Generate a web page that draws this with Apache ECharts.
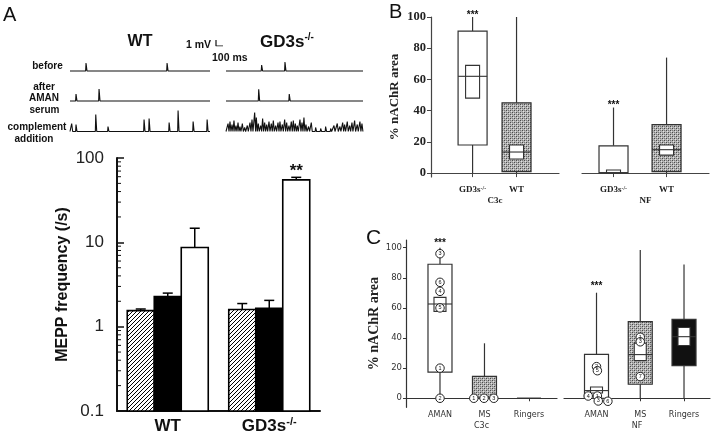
<!DOCTYPE html>
<html><head><meta charset="utf-8">
<script src="https://cdn.jsdelivr.net/npm/echarts@6/dist/echarts.min.js"></script>
<style>html,body{margin:0;padding:0;background:#fff}#c{width:720px;height:438px}</style>
</head><body><div id="c"></div><script>
// ================= DATA =================
// Panel A traces: spikes as [time ms, amplitude mV]
const traceDurationWT = 2000;
const traceDurationKO = 1960;
const wtBefore = [[229,1.33],[1387,1.33]];
const wtAfter = [[86,1.17],[415,2.0]];
const wtComplement = [[24,1.33],[86,1.17],[368,2.83],[543,0.83],[1058,2.0],[1130,2.17],[1416,1.5],[1544,3.5],[1759,1.67],[1959,2.0]];
const koBefore = [[510,1.0],[844,1.5]];
const koAfter = [[468,1.95],[905,1.17]];
const koComplement = [[29,1.33],[57,1.67],[86,1.17],[114,1.83],[143,1.0],[172,1.5],[200,0.83],[234,1.33],[267,0.67],[305,1.0],[343,1.5],[372,2.0],[410,3.17],[434,2.33],[462,1.33],[496,1.0],[524,2.17],[553,1.5],[582,1.17],[615,1.67],[648,1.33],[677,1.83],[710,1.0],[744,1.5],[772,1.67],[806,1.17],[839,2.0],[868,1.5],[901,1.0],[934,1.67],[963,1.83],[992,1.33],[1020,1.0],[1058,2.0],[1087,1.5],[1115,2.33],[1144,1.17],[1182,0.83],[1220,1.5],[1282,0.67],[1354,0.5],[1425,0.83],[1497,0.5],[1545,1.0],[1592,1.33],[1630,0.83],[1669,1.5],[1697,1.17],[1735,1.67],[1769,1.0],[1802,1.5],[1840,1.83],[1878,1.17],[1916,1.67],[1945,1.33]];
const scaleBar = [[0,1],[0,0],[100,0]]; // 1 mV, 100 ms

// Panel A bar chart (MEPP frequency, /s)
const barCategories = ['WT', 'GD3s-/-'];
const mBefore = [1.55, 1.6];
const mBeforeErr = [1.62, 1.88];
const mAfter = [2.28, 1.65];
const mAfterErr = [2.5, 2.05];
const mComplement = [8.7, 55];
const mComplementErr = [14.7, 59];
const mComplementSig = ['', '**'];
const logMinorTicks = [0.2,0.3,0.4,0.5,0.6,0.7,0.8,0.9,2,3,4,5,6,7,8,9,20,30,40,50,60,70,80,90];

// Panel B: [min, q1, median, q3, max, innerLow, innerHigh]
const bCategories = ['GD3s-/-', 'WT'];
const bC3c = [[0,18,62,91,100,48,69],[0,1,13.5,45,100,9,18]];
const bNF = [[0,0,0.3,17.5,42,0,2],[0,1,15,31,74,11.5,18]];
const bFill = ['open','hatched'];
const bSig = ['***',''];
const pctTicks = [0,20,40,60,80,100];

// Panel C
const cCategories = ['AMAN','MS','Ringers'];
const cC3c = [[0,17.3,62.6,89,100,57.7,67],[0,0,0,14.5,36.5,null,null],[0,0,0,0,0,null,null]];
const cNF = [[0,0,5.1,29.2,70.1,3.5,7.5],[0,9.3,29,50.9,98.5,25,36.5],[0,21.7,40.9,52.4,88.9,35,47]];
const cFillC3c = ['open','hatched','open'];
const cFillNF = ['open','hatched','black'];
const cSig = ['***','',''];
// individual muscles: [x position (category units), value, muscle id]
const cDotsC3c = [[1,96,'3'],[1,77,'6'],[1,71,'4'],[1,60,'5'],[1,20,'1'],[1,0,'2'],[1.76,0,'1'],[1.99,0,'2'],[2.21,0,'3']];
const cDotsNF = [[1.0,21,'2'],[1.02,18.3,'5'],[0.81,1.5,'4'],[1.02,1.5,'1'],[1.04,-1.8,'3'],[1.26,-2,'6'],[2,40.5,'1'],[2,37.5,'3'],[2,14.4,'7']];

// ================= RENDER =================
function hatchCanvas(){
  const c=document.createElement('canvas'); c.width=4; c.height=4;
  const g=c.getContext('2d'); g.fillStyle='#fff'; g.fillRect(0,0,4,4);
  g.strokeStyle='#000'; g.lineWidth=1;
  g.beginPath(); g.moveTo(-1,5); g.lineTo(5,-1); g.moveTo(-1,1); g.lineTo(1,-1); g.moveTo(3,5); g.lineTo(5,3); g.stroke();
  return c;
}
function stippleCanvas(){
  const c=document.createElement('canvas'); c.width=4; c.height=4;
  const g=c.getContext('2d'); g.fillStyle='#b4b4b4'; g.fillRect(0,0,4,4);
  g.fillStyle='#4a4a4a'; g.fillRect(0,0,1,1); g.fillRect(2,2,1,1);
  g.fillStyle='#7a7a7a'; g.fillRect(2,0,1,1); g.fillRect(0,2,1,1);
  g.fillStyle='#e0e0e0'; g.fillRect(1,1,1,1); g.fillRect(3,3,1,1);
  return c;
}
const hatch = {image: hatchCanvas(), repeat:'repeat'};
const stipple = {image: stippleCanvas(), repeat:'repeat'};
const fillOf = t => t==='hatched' ? stipple : (t==='black' ? '#111' : '#fff');

function traceData(spikes, dur){
  const pts=[[0,0]];
  spikes.forEach(([t,a])=>{pts.push([t-6,0],[t,a],[t+14,0]);});
  pts.push([dur,0]);
  return pts;
}

const SANS='"Liberation Sans", Arial, sans-serif';
const SERIF='"Liberation Serif", "Times New Roman", serif';
const DEJ='"DejaVu Sans", sans-serif';

const grids=[], xAxes=[], yAxes=[], series=[];
function addGrid(g,x,y){grids.push(g); x.gridIndex=grids.length-1; y.gridIndex=grids.length-1; xAxes.push(x); yAxes.push(y); return grids.length-1;}

// ---- Traces ----
const hiddenAxis = (min,max)=>({type:'value',min,max,show:false});
const traceRows=[71,101,131.5];
const traces=[[wtBefore,wtAfter,wtComplement],[koBefore,koAfter,koComplement]];
const traceLeft=[70,226], traceW=[140,137], traceDur=[traceDurationWT,traceDurationKO];
for(let col=0;col<2;col++){
  for(let r=0;r<3;r++){
    const gi=addGrid({left:traceLeft[col],top:traceRows[r]-3.6*6,width:traceW[col],height:4.1*6},hiddenAxis(0,traceDur[col]),hiddenAxis(-0.5,3.6));
    series.push({type:'line',xAxisIndex:gi,yAxisIndex:gi,data:traceData(traces[col][r],traceDur[col]),showSymbol:false,silent:true,
      lineStyle:{color:'#111',width:1.1}});
  }
}
{
  const gi=addGrid({left:216,top:40,width:7,height:6},hiddenAxis(0,100),hiddenAxis(0,1));
  series.push({type:'line',xAxisIndex:gi,yAxisIndex:gi,data:scaleBar,showSymbol:false,lineStyle:{color:'#111',width:1.2}});
}

// ---- Bar chart (A) ----
const BARW=27;
const supRich={sup:{fontSize:11,fontWeight:'bold',fontFamily:SANS,color:'#111',verticalAlign:'top',lineHeight:11}};
const aGi=addGrid({left:117,top:158,width:203,height:253},
  {type:'category',data:barCategories,axisLine:{lineStyle:{color:'#111',width:2}},axisTick:{show:false},
   axisLabel:{interval:0,fontFamily:SANS,fontWeight:'bold',fontSize:17,color:'#111',margin:5,lineHeight:20,
     formatter:v=>v.replace('-/-','{sup|-/-}'),rich:supRich}},
  {type:'log',logBase:10,min:0.1,max:100,axisLine:{show:true,lineStyle:{color:'#111',width:2}},
   axisTick:{show:true,inside:true,length:7,lineStyle:{color:'#111',width:1.5}},splitLine:{show:false},minorTick:{show:false},
   axisLabel:{fontFamily:SANS,fontSize:17,color:'#222',margin:13,formatter:v=>String(v)},
   name:'MEPP frequency (/s)',nameLocation:'middle',nameGap:46,nameTextStyle:{fontFamily:SANS,fontWeight:'bold',fontSize:16,color:'#111'}});
const barFills=[hatch,'#000','#fff'];
const barData=[];
[[mBefore,mBeforeErr,['','']],[mAfter,mAfterErr,['','']],[mComplement,mComplementErr,mComplementSig]].forEach(([m,e,sg],s)=>{
  m.forEach((v,c)=>barData.push([c,v,e[c],s,sg[c]]));
});
series.push({type:'custom',xAxisIndex:aGi,yAxisIndex:aGi,data:barData,encode:{x:0,y:[1,2]},z:5,
  renderItem:(p,api)=>{
    const c=api.value(0), v=api.value(1), e=api.value(2), s=api.value(3), sg=barData[p.dataIndex][4];
    const x=api.coord([c,v])[0]+(s-1)*BARW, yTop=api.coord([c,v])[1], y1=api.coord([c,e])[1];
    const yBase=p.coordSys.y+p.coordSys.height;
    const ch=[
      {type:'rect',shape:{x:x-BARW/2,y:yTop,width:BARW,height:yBase-yTop},style:{fill:barFills[s],stroke:'#000',lineWidth:1.6}},
      {type:'line',shape:{x1:x,y1:yTop,x2:x,y2:y1},style:{stroke:'#000',lineWidth:1.5}},
      {type:'line',shape:{x1:x-5,y1:y1,x2:x+5,y2:y1},style:{stroke:'#000',lineWidth:1.5}}];
    if(sg) ch.push({type:'text',style:{text:sg,x:x,y:y1+2,align:'center',verticalAlign:'bottom',font:'bold 17px '+SANS,fill:'#111'}});
    return {type:'group',children:ch};
  }});
series.push({type:'custom',xAxisIndex:aGi,yAxisIndex:aGi,data:logMinorTicks.map(v=>[0,v]),encode:{x:0,y:1},z:6,
  renderItem:(p,api)=>{const x0=p.coordSys.x, y=api.coord([0,api.value(1)])[1];
    return {type:'line',shape:{x1:x0,y1:y,x2:x0+4,y2:y},style:{stroke:'#111',lineWidth:1}};}});

// ---- Box renderer ----
function boxSeries(gi, stats, fills, sigs, boxW, innerW, starDy, starFont){
  return {type:'custom',xAxisIndex:gi,yAxisIndex:gi,data:stats.map((s,i)=>[i+1,s[0],s[4]]),encode:{x:0,y:[1,2]},z:3,
    renderItem:(p,api)=>{
      const s=stats[p.dataIndex], i=api.value(0);
      const cx=api.coord([i,0])[0], Y=v=>api.coord([i,v])[1];
      const st={stroke:'#333',lineWidth:1.2};
      const ch=[
        {type:'line',shape:{x1:cx,y1:Y(s[0]),x2:cx,y2:Y(s[1])},style:st},
        {type:'line',shape:{x1:cx,y1:Y(s[3]),x2:cx,y2:Y(s[4])},style:st},
        {type:'rect',shape:{x:cx-boxW/2,y:Y(s[3]),width:boxW,height:Y(s[1])-Y(s[3])},style:{fill:fillOf(fills[p.dataIndex]),stroke:'#333',lineWidth:1.2}}
      ];
      if(s[5]!=null) ch.push({type:'rect',shape:{x:cx-innerW/2,y:Y(s[6]),width:innerW,height:Y(s[5])-Y(s[6])},style:{fill:'#fff',stroke:'#333',lineWidth:1.1}});
      ch.push({type:'line',shape:{x1:cx-boxW/2,y1:Y(s[2]),x2:cx+boxW/2,y2:Y(s[2])},style:{stroke:'#333',lineWidth:1.1}});
      if(sigs[p.dataIndex]) ch.push({type:'text',style:{text:sigs[p.dataIndex],x:cx,y:Y(s[4])+starDy,align:'center',verticalAlign:'middle',font:starFont,fill:'#111'}});
      return {type:'group',children:ch};
    }};
}

// ---- Panel B ----
function bX(min,max,name){
  return {type:'value',min,max,offset:5,axisLine:{lineStyle:{color:'#444',width:1.2}},splitLine:{show:false},
    axisTick:{show:true,customValues:[1,2],length:4,lineStyle:{color:'#444'}},
    axisLabel:{customValues:[1,2],formatter:v=>bCategories[Math.round(v)-1].replace('-/-','{s|-/-}'),
      fontFamily:SERIF,fontWeight:'bold',fontSize:9,color:'#222',margin:3,rich:{s:{fontSize:6,fontFamily:SERIF,color:'#222',verticalAlign:'top',lineHeight:7}}},
    name,nameLocation:'middle',nameGap:14,nameTextStyle:{fontFamily:SERIF,fontWeight:'bold',fontSize:9,color:'#222'}};
}
const b1=addGrid({left:431,top:17,width:128,height:160},bX(0.054,2.966,'C3c'),
  {type:'value',min:-2.5,max:100,axisLine:{show:true,lineStyle:{color:'#444',width:1.2}},splitLine:{show:false},
   axisTick:{show:true,customValues:pctTicks,length:4,lineStyle:{color:'#444'}},
   axisLabel:{customValues:pctTicks,fontFamily:SERIF,fontWeight:'bold',fontSize:12.5,color:'#222',margin:5},
   name:'% nAChR area',nameLocation:'middle',nameGap:30,nameTextStyle:{fontFamily:SERIF,fontWeight:'bold',fontSize:13,color:'#222'}});
const b2=addGrid({left:582,top:17,width:127,height:160},bX(0.406,2.80,'NF'),{type:'value',min:-2.5,max:100,show:false});
series.push(boxSeries(b1,bC3c,bFill,bSig,29,14,-2,'bold 10px '+SANS));
series.push(boxSeries(b2,bNF,bFill,bSig,29,14,-2,'bold 10px '+SANS));

// ---- Panel C ----
function cX(min,max,name){
  return {type:'value',min,max,axisLine:{lineStyle:{color:'#333',width:1.2}},splitLine:{show:false},
    axisTick:{show:true,customValues:[1,2,3],length:3,lineStyle:{color:'#333'}},
    axisLabel:{customValues:[1,2,3],formatter:v=>cCategories[Math.round(v)-1],fontFamily:DEJ,fontSize:8,color:'#333',margin:4},
    name,nameLocation:'middle',nameGap:15,nameTextStyle:{fontFamily:DEJ,fontSize:8,color:'#333'}};
}
const c1=addGrid({left:406,top:240,width:151,height:167.3},cX(0.236,3.63,'C3c'),
  {type:'value',min:-6,max:105.1,axisLine:{show:true,lineStyle:{color:'#333',width:1.2}},splitLine:{show:false},
   axisTick:{show:true,customValues:pctTicks,length:3,lineStyle:{color:'#333'}},
   axisLabel:{customValues:pctTicks,fontFamily:DEJ,fontSize:8.5,color:'#333',margin:4},
   name:'% nAChR area',nameLocation:'middle',nameGap:21,nameTextStyle:{fontFamily:SERIF,fontWeight:'bold',fontSize:14,color:'#222'}});
const c2=addGrid({left:564,top:240,width:146,height:167.3},cX(0.257,3.594,'NF'),{type:'value',min:-6,max:105.1,show:false});
series.push(boxSeries(c1,cC3c,cFillC3c,cSig,24,12,-4,'bold 10px '+SANS));
series.push(boxSeries(c2,cNF,cFillNF,cSig,24,12,-6,'bold 10px '+SANS));
function dotSeries(gi,dots){
  return {type:'scatter',xAxisIndex:gi,yAxisIndex:gi,z:4,symbol:'circle',symbolSize:8.5,
    data:dots.map(d=>({value:[d[0],d[1]],name:d[2]})),
    itemStyle:{color:'#fff',borderColor:'#222',borderWidth:1,opacity:1},
    label:{show:true,position:'inside',formatter:'{b}',fontSize:5.5,fontFamily:SANS,color:'#111'}};
}
series.push(dotSeries(c1,cDotsC3c));
series.push(dotSeries(c2,cDotsNF));

// ---- Text annotations ----
const T=(text,x,y,font,align,rich)=>({type:'text',x,y,style:{text,font,fill:'#111',align:align||'left',verticalAlign:'middle',rich}});
const gRich={s:{fontSize:10,fontWeight:'bold',fontFamily:SANS,fill:'#111',verticalAlign:'top',lineHeight:10},n:{fontSize:17,fontWeight:'bold',fontFamily:SANS,fill:'#111',lineHeight:19}};
const graphic=[
  T('A',3,15,'20px '+SANS),
  T('B',389,12,'20px '+SANS),
  T('C',366,238,'21px '+SANS),
  T('WT',140,42,'bold 16px '+SANS,'center'),
  {type:'text',x:260,y:42,style:{text:'{n|GD3s}{s|-/-}',rich:gRich,align:'left',verticalAlign:'middle',fill:'#111'}},
  T('1 mV',186,45,'bold 10.5px '+SANS),
  T('100 ms',212,58,'bold 10.5px '+SANS),
  T('before',47.5,66.5,'bold 10px '+SANS,'center'),
  T('after',44,87.5,'bold 10px '+SANS,'center'),
  T('AMAN',44,98.5,'bold 10px '+SANS,'center'),
  T('serum',44.5,110.5,'bold 10px '+SANS,'center'),
  T('complement',37,127.5,'bold 10px '+SANS,'center'),
  T('addition',34,139,'bold 10px '+SANS,'center')
];

const chart=echarts.init(document.getElementById('c'),null,{renderer:'canvas'});
chart.setOption({animation:false,backgroundColor:'#fff',grid:grids,xAxis:xAxes,yAxis:yAxes,series,graphic});
</script></body></html>
